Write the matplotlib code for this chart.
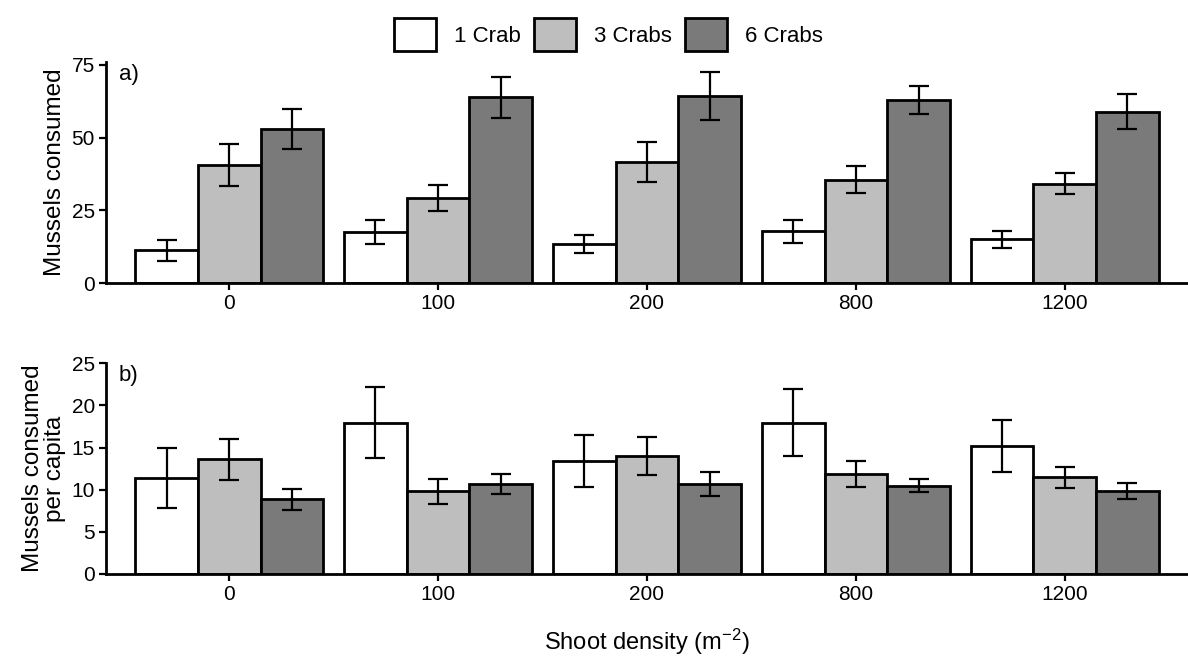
import numpy as np
import matplotlib
matplotlib.use('Agg')
import matplotlib.pyplot as plt
from matplotlib.patches import Patch

plt.rcParams['font.family'] = ['Liberation Sans', 'DejaVu Sans']
plt.rcParams['mathtext.default'] = 'regular'

densities = ['0', '100', '200', '800', '1200']
groups = ['1 Crab', '3 Crabs', '6 Crabs']
colors = ['#ffffff', '#bebebe', '#7a7a7a']

# a) mussels consumed (mean, se)
total_1 = [11.3, 17.7, 13.4, 17.8, 15.1]
total_3 = [40.6, 29.3, 41.7, 35.6, 34.2]
total_6 = [53.0, 63.9, 64.2, 63.0, 58.9]
total_1_err = [3.5, 4.1, 3.1, 3.9, 3.0]
total_3_err = [7.3, 4.4, 6.8, 4.6, 3.7]
total_6_err = [7.0, 7.1, 8.2, 4.7, 6.0]

# b) per capita
pc_1 = [11.4, 17.95, 13.45, 17.95, 15.2]
pc_3 = [13.6, 9.8, 14.0, 11.9, 11.5]
pc_6 = [8.85, 10.65, 10.7, 10.5, 9.85]
pc_1_err = [3.55, 4.2, 3.1, 4.0, 3.05]
pc_3_err = [2.45, 1.5, 2.25, 1.55, 1.25]
pc_6_err = [1.2, 1.17, 1.4, 0.8, 1.0]

fig = plt.figure(figsize=(11.88, 6.58), dpi=100)
ax1 = fig.add_axes([0.0892, 0.5695, 0.9108, 0.3363])
ax2 = fig.add_axes([0.0892, 0.1277, 0.9108, 0.3207])

x = np.arange(len(densities))
w = 0.3


def draw(ax, vals, errs, ylim, yticks):
    for i, (v, e) in enumerate(zip(vals, errs)):
        ax.bar(x + (i - 1) * w, v, width=w, color=colors[i], edgecolor='black',
               linewidth=2.0, zorder=2)
        ax.errorbar(x + (i - 1) * w, v, yerr=e, fmt='none', ecolor='black',
                    elinewidth=1.6, capsize=7.5, capthick=1.6, zorder=3)
    ax.set_xlim(-0.59, 4.59)
    ax.set_ylim(*ylim)
    ax.set_yticks(yticks)
    ax.set_xticks(x)
    ax.set_xticklabels(densities)
    for s in ['top', 'right']:
        ax.spines[s].set_visible(False)
    for s in ['left', 'bottom']:
        ax.spines[s].set_linewidth(2.0)
    ax.tick_params(axis='both', labelsize=15, width=1.6, length=5, pad=3)


draw(ax1, [total_1, total_3, total_6], [total_1_err, total_3_err, total_6_err],
     (0, 76), [0, 25, 50, 75])
draw(ax2, [pc_1, pc_3, pc_6], [pc_1_err, pc_3_err, pc_6_err],
     (0, 25.05), [0, 5, 10, 15, 20, 25])

ax1.set_ylabel('Mussels consumed', fontsize=17.5, labelpad=4)
ax2.set_ylabel('Mussels consumed\nper capita', fontsize=17.5, labelpad=4,
               linespacing=1.0)
ax2.set_xlabel('Shoot density (m$^{-2}$)', fontsize=17, labelpad=16)

ax1.text(0.012, 0.99, 'a)', transform=ax1.transAxes, fontsize=16, va='top')
ax2.text(0.012, 0.99, 'b)', transform=ax2.transAxes, fontsize=16, va='top')

handles = [Patch(facecolor=c, edgecolor='black', linewidth=2.0) for c in colors]
fig.legend(handles, groups, loc='center', bbox_to_anchor=(0.512, 0.947), ncol=3,
           frameon=False, fontsize=16, handlelength=1.9, handleheight=1.9,
           handletextpad=0.8, columnspacing=0.6)

plt.savefig('out.png', dpi=100)
